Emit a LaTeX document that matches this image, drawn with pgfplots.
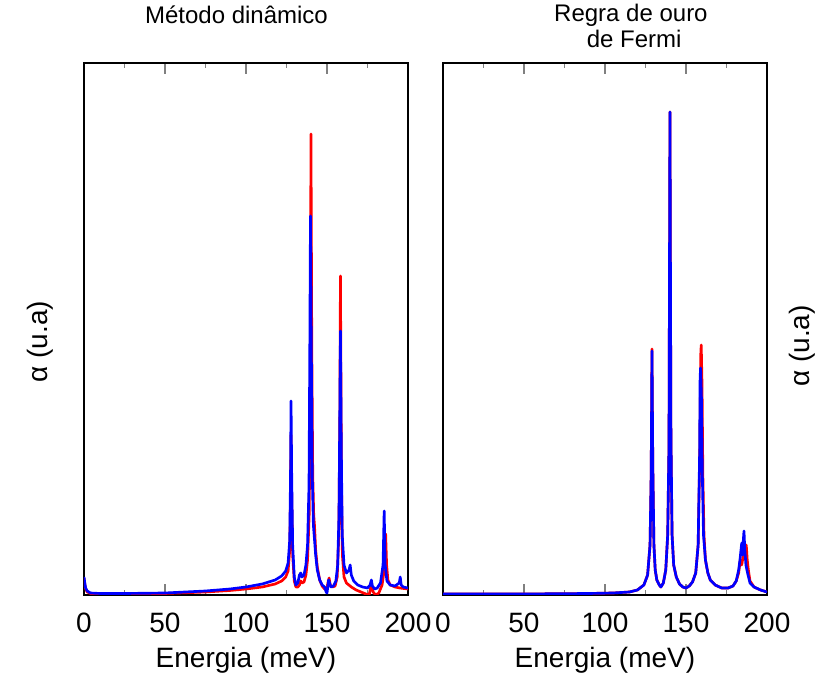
\documentclass[border=0pt]{standalone}
\usepackage{pgfplots}
\pgfplotsset{compat=1.18}
\usepackage{fontspec}
\setmainfont{Liberation Sans}
\definecolor{cred}{RGB}{255,0,0}
\definecolor{cblue}{RGB}{0,0,255}
\pgfplotsset{
  panel/.style={
    scale only axis, width=243pt, height=399pt,
    xmin=0, xmax=200, ymin=0, ymax=532,
    axis line style={line width=1.3pt},
    xtick={0,50,100,150,200},
    minor xtick={25,75,125,175},
    ytick=\empty,
    tick align=inside,
    xtick pos=both, ytick pos=both,
    major tick length=8pt, minor tick length=4pt,
    x tick style={line width=1.3pt},
    minor y tick style={line width=0.8pt},
    /pgf/number format/assume math mode=true,
    ticklabel style={font=\fontsize{21}{25}\selectfont},
    xticklabel style={anchor=base, yshift=-28.5pt},
    label style={font=\fontsize{21}{25}\selectfont},
    xlabel={Energia (meV)},
    xlabel style={at={(axis description cs:0.5,0)}, anchor=base, yshift=-54.75pt},
    title style={font=\fontsize{18}{22}\selectfont},
    every axis title shift=0pt,
    clip mode=individual,
  },
  rl/.style={color=cred, line width=2pt, line join=round},
  bl/.style={color=cblue, line width=2pt, line join=round},
}
\begin{document}
\begin{tikzpicture}
\useasboundingbox (-63pt,-69.75pt) rectangle (548.25pt,446.25pt);
% ---------------- left panel
\begin{axis}[panel, at={(0pt,0pt)}, anchor=south west,
  minor ytick={44.33,88.67,133,177.33,221.67,266,310.33,354.67,399,443.33,487.67},
  ylabel={α (u.a)},
  ylabel style={at={(axis description cs:-0.1358,0.476)}, anchor=center},
  title={Método dinâmico},
  title style={at={(axis description cs:0.4707,1)}, anchor=base, yshift=29.25pt},
]
\addplot[rl] coordinates {
(0,17)(0.5,11)(1,6)(2,3)(4,1.5)(10,1)(25,1)(50,1.5)(75,3)(90,4.5)(100,6)(110,8)(118,11)(122,14)(124.5,18)(126,24)(127,45)(127.5,100)(127.8,160)(128.2,100)(128.8,40)(129.8,14)(130.8,8)(132,8)(133,10)(133.8,14)(134.6,12)(135.8,13)(137,20)(138,35)(139,80)(139.7,200)(140.1,461)(140.6,250)(141.2,120)(141.8,80)(142.3,69)(143,45)(144,28)(145.5,15)(147,9)(148.5,6)(150,6)(150.8,14)(151.3,17)(152,10)(153.5,8)(155,9)(156.3,18)(157.3,60)(157.9,170)(158.3,319)(158.9,120)(159.5,40)(160.5,18)(162,12)(163.5,10)(165,8)(168,5)(171,3)(174,1)(176,0)(177.2,9)(177.8,8)(178.5,3)(180,0)(182,2)(184,10)(185.3,25)(186.2,61)(186.8,30)(187.6,15)(189,10)(192,8)(195,7)(200,6)
};
\addplot[bl] coordinates {
(0,18)(0.5,12)(1,7)(2,4)(4,2)(10,1.5)(25,1.5)(50,2)(75,4)(90,6)(100,8)(110,11)(118,15)(122,19)(124.5,24)(126,32)(127,55)(127.5,120)(127.8,194)(128.2,120)(128.8,50)(129.8,18)(130.8,10)(132,12)(133,20)(133.8,22)(134.6,18)(135.8,20)(137,30)(138,50)(138.9,110)(139.4,250)(139.8,379)(140.3,250)(140.9,120)(141.6,70)(142.4,53)(143,40)(144,25)(145.5,15)(147,10)(148.5,8)(149.5,3)(150,2)(150.5,8)(151,15)(151.6,12)(152.5,8)(154,9)(155.5,14)(156.6,30)(157.4,80)(157.9,180)(158.3,264)(158.8,150)(159.4,60)(160.5,30)(162,22)(163.6,25)(164.3,30)(165,20)(166.5,14)(169,10)(172,8)(175,7)(176.6,10)(177.4,15)(178,9)(179.5,6)(181,7)(183,12)(184.6,30)(185.3,84)(185.9,30)(187,14)(189,10)(192,9)(194.6,12)(195.2,18)(195.8,10)(197,8)(200,7)
};
\end{axis}
% ---------------- right panel
\begin{axis}[panel, at={(269.25pt,0pt)}, anchor=south west,
  minor ytick={59.11,118.22,177.33,236.44,295.56,354.67,413.78,472.89},
  ylabel={α (u.a)},
  ylabel style={at={(axis description cs:1.108,0.468)}, anchor=center},
  title={Regra de ouro},
  title style={at={(axis description cs:0.580,1)}, anchor=base, yshift=30.75pt},
]
\addplot[rl] coordinates {
(0,1)(50,1)(90,1.5)(105,2)(115,3)(120,5)(124,10)(126.3,20)(127.8,50)(128.5,120)(129,246)(129.5,130)(130.2,50)(131,25)(132,15)(133.5,10)(134.5,8)(136,12)(137.5,25)(138.7,60)(139.5,150)(140.1,483)(140.7,160)(141.4,60)(142.4,30)(144,18)(146,11)(148,8)(150,7)(152,9)(154,13)(156,22)(157.5,50)(158.5,140)(159.1,240)(159.4,250)(159.9,210)(160.4,120)(161.1,60)(162,35)(163.5,22)(165,15)(168,10)(172,7)(176,7)(179,9)(181,14)(182.5,22)(183.5,35)(184.4,30)(185.4,40)(186.2,38)(187.2,50)(187.8,35)(188.5,25)(189.5,14)(192,8)(196,5)(200,3)
};
\addplot[bl] coordinates {
(0,1)(50,1)(90,1.5)(105,2)(115,3)(120,5)(124,10)(126.3,20)(127.8,50)(128.5,120)(129,244)(129.5,130)(130.2,50)(131,25)(132,15)(133.5,10)(134.5,8)(136,12)(137.5,25)(138.7,60)(139.5,150)(140.1,483)(140.7,160)(141.4,60)(142.4,30)(144,18)(146,11)(148,8)(150,7)(152,9)(154,13)(156,22)(157.5,50)(158.4,140)(158.7,217)(159.0,227)(159.5,200)(160.1,120)(160.8,60)(162,35)(163.5,22)(165,15)(168,10)(172,7)(176,7)(179,9)(181,14)(182.5,25)(183.3,35)(184.4,52)(184.9,40)(185.4,55)(185.8,64)(186.3,45)(187,30)(188,22)(189.5,12)(192,8)(196,5)(200,3)
};
\node[font=\fontsize{18}{22}\selectfont, anchor=base] at (axis description cs:0.590,1) [yshift=11.25pt] {de Fermi};
\end{axis}
\end{tikzpicture}
\end{document}
